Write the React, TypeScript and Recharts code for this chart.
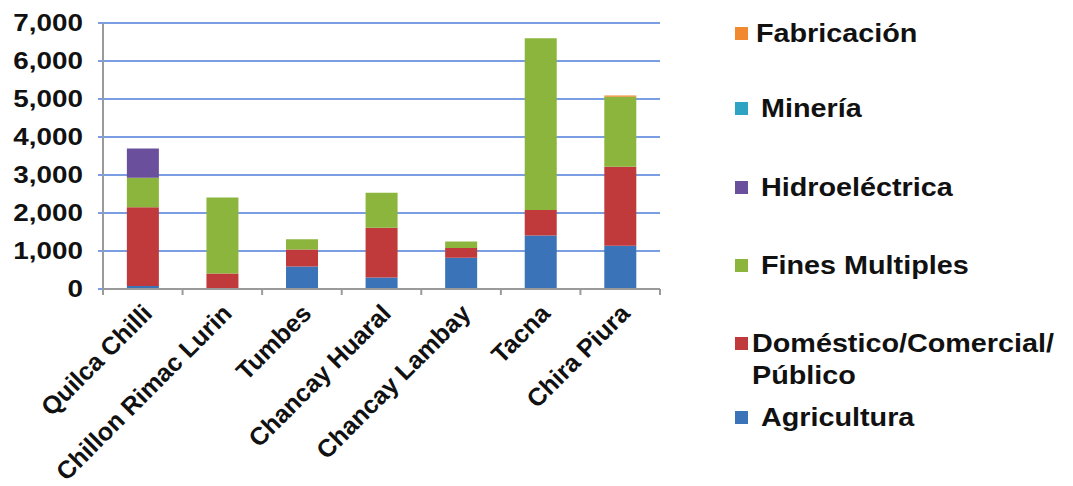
import React from 'react';
import { BarChart, Bar, XAxis, YAxis, CartesianGrid, Legend } from 'recharts';

const categories = ['Quilca Chilli', 'Chillon Rimac Lurin', 'Tumbes', 'Chancay Huaral', 'Chancay Lambay', 'Tacna', 'Chira Piura'];
const agricultura = [80, 0, 590, 300, 820, 1410, 1140];
const domestico = [2070, 410, 450, 1310, 260, 670, 2080];
const fines = [780, 2000, 270, 920, 170, 4520, 1840];
const hidro = [770, 0, 0, 0, 0, 0, 0];
const mineria = [0, 0, 0, 0, 0, 0, 0];
const fabricacion = [0, 0, 0, 0, 0, 0, 30];
const yTicks = [0, 1000, 2000, 3000, 4000, 5000, 6000, 7000];

const seriesKeys = ['agricultura', 'domestico', 'fines', 'hidro', 'mineria', 'fabricacion'];
const seriesNames = ['Agricultura', 'Doméstico/Comercial/\nPúblico', 'Fines Multiples', 'Hidroeléctrica', 'Minería', 'Fabricación'];
const seriesColors = ['#3b73b9', '#c0393b', '#8cb53d', '#6a4f9c', '#2ea4c2', '#f0892f'];

const data = categories.map((c, i) => ({
  name: c,
  agricultura: agricultura[i],
  domestico: domestico[i],
  fines: fines[i],
  hidro: hidro[i],
  mineria: mineria[i],
  fabricacion: fabricacion[i],
}));

const FONT = '"Liberation Sans", Arial, sans-serif';

const YTick = (props: any) => {
  const { x, y, payload } = props;
  return (
    <text
      transform={`translate(${x},${y + 8}) scale(1.16,1)`}
      textAnchor="end"
      fontFamily={FONT}
      fontWeight="bold"
      fontSize={24}
      fill="#111"
    >
      {Number(payload.value).toLocaleString('en-US')}
    </text>
  );
};

const XTick = (props: any) => {
  const { x, y, payload, index, visibleTicksCount } = props;
  const half = payload && payload.offset ? payload.offset : 0;
  const isLast = index === visibleTicksCount - 1;
  return (
    <g>
      <line x1={x - half} x2={x - half} y1={y} y2={y + 6} stroke="#9a9a9a" strokeWidth={2} />
      {isLast && <line x1={x + half} x2={x + half} y1={y} y2={y + 6} stroke="#9a9a9a" strokeWidth={2} />}
      <text
        transform={`translate(${x + 11},${y + 26}) rotate(-45)`}
        textAnchor="end"
        fontFamily={FONT}
        fontWeight="bold"
        fontSize={25}
        fill="#111"
      >
        {payload.value}
      </text>
    </g>
  );
};

const legendMargins = [0, 43, 47, 46, 46, 10];
const legendGaps = [8, 13, 13, 13, 4, 13];

const LegendContent = () => {
  const order = [5, 4, 3, 2, 1, 0];
  return (
    <div style={{ fontFamily: FONT, fontWeight: 'bold', fontSize: 25, color: '#111' }}>
      {order.map((si, idx) => {
        const lines = seriesNames[si].split('\n');
        return (
          <div key={si} style={{ marginTop: legendMargins[idx], position: 'relative', lineHeight: '32px' }}>
            <span
              style={{
                position: 'absolute',
                left: 0,
                top: 10,
                width: 13,
                height: 13,
                background: seriesColors[si],
              }}
            />
            {lines.map((ln, li) => (
              <div
                key={li}
                style={{
                  marginLeft: 13 + legendGaps[idx],
                  transform: 'scaleX(1.15)',
                  transformOrigin: 'left center',
                  whiteSpace: 'nowrap',
                }}
              >
                {ln}
              </div>
            ))}
          </div>
        );
      })}
    </div>
  );
};

export default function App() {
  return (
    <div style={{ position: 'absolute', left: 0, top: 0, width: 1073, height: 486, background: '#fff' }}>
      <BarChart
        width={1073}
        height={486}
        data={data}
        margin={{ top: 23, right: 413, left: 0, bottom: 0 }}
        barCategoryGap="30%"
      >
        <CartesianGrid vertical={false} stroke="#7b9de2" strokeWidth={2} />
        <XAxis
          dataKey="name"
          height={197}
          interval={0}
          axisLine={{ stroke: '#9a9a9a', strokeWidth: 2 }}
          tickLine={false}
          tickSize={0}
          tickMargin={0}
          tick={<XTick />}
        />
        <YAxis
          width={103}
          domain={[0, 7000]}
          ticks={yTicks}
          interval={0}
          tickSize={5}
          tickMargin={15}
          axisLine={{ stroke: '#9a9a9a', strokeWidth: 2 }}
          tickLine={{ stroke: '#7b9de2', strokeWidth: 2 }}
          tick={<YTick />}
        />
        <Legend
          layout="horizontal"
          verticalAlign="middle"
          align="center"
          content={<LegendContent />}
          wrapperStyle={{ position: 'absolute', left: 735, top: 17, width: 338 }}
        />
        {seriesKeys.map((k, i) => (
          <Bar
            key={k}
            dataKey={k}
            name={seriesNames[i]}
            stackId="a"
            fill={seriesColors[i]}
            isAnimationActive={false}
          />
        ))}
      </BarChart>
    </div>
  );
}
